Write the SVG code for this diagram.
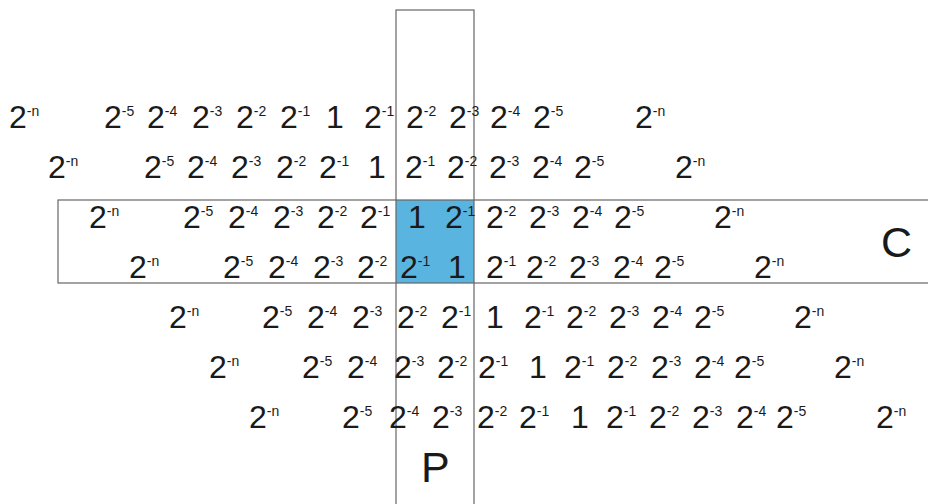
<svg xmlns="http://www.w3.org/2000/svg" width="928" height="504" viewBox="0 0 928 504">
<style>
text{font-family:"Liberation Sans",Arial,sans-serif;font-size:32px;fill:#1a1a1a}
.s{font-size:14px}
.big{font-size:43px}
.box{fill:none;stroke:#666;stroke-width:1.2}
</style>
<rect width="928" height="504" fill="#fff"/>
<g id="shapes">
<rect id="overlap" x="396" y="200" width="78" height="83" fill="#5ab4e0"/>
<rect id="boxC" class="box" x="58" y="200" width="890" height="83"/>
<rect id="boxP" class="box" x="396" y="10" width="78" height="520"/>
</g>
<g id="row1">
<text x="9" y="128">2<tspan class="s" dy="-12">-n</tspan></text>
<text x="104" y="128">2<tspan class="s" dy="-12">-5</tspan></text>
<text x="147" y="128">2<tspan class="s" dy="-12">-4</tspan></text>
<text x="192" y="128">2<tspan class="s" dy="-12">-3</tspan></text>
<text x="236" y="128">2<tspan class="s" dy="-12">-2</tspan></text>
<text x="280" y="128">2<tspan class="s" dy="-12">-1</tspan></text>
<text x="326" y="128">1</text>
<text x="364" y="128">2<tspan class="s" dy="-12">-1</tspan></text>
<text x="406" y="128">2<tspan class="s" dy="-12">-2</tspan></text>
<text x="449" y="128">2<tspan class="s" dy="-12">-3</tspan></text>
<text x="490" y="128">2<tspan class="s" dy="-12">-4</tspan></text>
<text x="533" y="128">2<tspan class="s" dy="-12">-5</tspan></text>
<text x="635" y="128">2<tspan class="s" dy="-12">-n</tspan></text>
</g>
<g id="row2">
<text x="48" y="178">2<tspan class="s" dy="-12">-n</tspan></text>
<text x="144" y="178">2<tspan class="s" dy="-12">-5</tspan></text>
<text x="187" y="178">2<tspan class="s" dy="-12">-4</tspan></text>
<text x="231" y="178">2<tspan class="s" dy="-12">-3</tspan></text>
<text x="276" y="178">2<tspan class="s" dy="-12">-2</tspan></text>
<text x="319" y="178">2<tspan class="s" dy="-12">-1</tspan></text>
<text x="368" y="178">1</text>
<text x="405" y="178">2<tspan class="s" dy="-12">-1</tspan></text>
<text x="447" y="178">2<tspan class="s" dy="-12">-2</tspan></text>
<text x="489" y="178">2<tspan class="s" dy="-12">-3</tspan></text>
<text x="532" y="178">2<tspan class="s" dy="-12">-4</tspan></text>
<text x="574" y="178">2<tspan class="s" dy="-12">-5</tspan></text>
<text x="675" y="178">2<tspan class="s" dy="-12">-n</tspan></text>
</g>
<g id="row3">
<text x="89" y="228">2<tspan class="s" dy="-12">-n</tspan></text>
<text x="183" y="228">2<tspan class="s" dy="-12">-5</tspan></text>
<text x="228" y="228">2<tspan class="s" dy="-12">-4</tspan></text>
<text x="273" y="228">2<tspan class="s" dy="-12">-3</tspan></text>
<text x="317" y="228">2<tspan class="s" dy="-12">-2</tspan></text>
<text x="360" y="228">2<tspan class="s" dy="-12">-1</tspan></text>
<text x="408" y="228">1</text>
<text x="445" y="228">2<tspan class="s" dy="-12">-1</tspan></text>
<text x="486" y="228">2<tspan class="s" dy="-12">-2</tspan></text>
<text x="529" y="228">2<tspan class="s" dy="-12">-3</tspan></text>
<text x="572" y="228">2<tspan class="s" dy="-12">-4</tspan></text>
<text x="614" y="228">2<tspan class="s" dy="-12">-5</tspan></text>
<text x="714" y="228">2<tspan class="s" dy="-12">-n</tspan></text>
</g>
<g id="row4">
<text x="129" y="278">2<tspan class="s" dy="-12">-n</tspan></text>
<text x="223" y="278">2<tspan class="s" dy="-12">-5</tspan></text>
<text x="268" y="278">2<tspan class="s" dy="-12">-4</tspan></text>
<text x="313" y="278">2<tspan class="s" dy="-12">-3</tspan></text>
<text x="357" y="278">2<tspan class="s" dy="-12">-2</tspan></text>
<text x="400" y="278">2<tspan class="s" dy="-12">-1</tspan></text>
<text x="448" y="278">1</text>
<text x="486" y="278">2<tspan class="s" dy="-12">-1</tspan></text>
<text x="526" y="278">2<tspan class="s" dy="-12">-2</tspan></text>
<text x="569" y="278">2<tspan class="s" dy="-12">-3</tspan></text>
<text x="613" y="278">2<tspan class="s" dy="-12">-4</tspan></text>
<text x="654" y="278">2<tspan class="s" dy="-12">-5</tspan></text>
<text x="754" y="278">2<tspan class="s" dy="-12">-n</tspan></text>
</g>
<g id="row5">
<text x="169" y="328">2<tspan class="s" dy="-12">-n</tspan></text>
<text x="262" y="328">2<tspan class="s" dy="-12">-5</tspan></text>
<text x="307" y="328">2<tspan class="s" dy="-12">-4</tspan></text>
<text x="352" y="328">2<tspan class="s" dy="-12">-3</tspan></text>
<text x="397" y="328">2<tspan class="s" dy="-12">-2</tspan></text>
<text x="441" y="328">2<tspan class="s" dy="-12">-1</tspan></text>
<text x="486" y="328">1</text>
<text x="524" y="328">2<tspan class="s" dy="-12">-1</tspan></text>
<text x="566" y="328">2<tspan class="s" dy="-12">-2</tspan></text>
<text x="609" y="328">2<tspan class="s" dy="-12">-3</tspan></text>
<text x="652" y="328">2<tspan class="s" dy="-12">-4</tspan></text>
<text x="694" y="328">2<tspan class="s" dy="-12">-5</tspan></text>
<text x="794" y="328">2<tspan class="s" dy="-12">-n</tspan></text>
</g>
<g id="row6">
<text x="209" y="378">2<tspan class="s" dy="-12">-n</tspan></text>
<text x="302" y="378">2<tspan class="s" dy="-12">-5</tspan></text>
<text x="347" y="378">2<tspan class="s" dy="-12">-4</tspan></text>
<text x="394" y="378">2<tspan class="s" dy="-12">-3</tspan></text>
<text x="437" y="378">2<tspan class="s" dy="-12">-2</tspan></text>
<text x="478" y="378">2<tspan class="s" dy="-12">-1</tspan></text>
<text x="529" y="378">1</text>
<text x="564" y="378">2<tspan class="s" dy="-12">-1</tspan></text>
<text x="607" y="378">2<tspan class="s" dy="-12">-2</tspan></text>
<text x="651" y="378">2<tspan class="s" dy="-12">-3</tspan></text>
<text x="694" y="378">2<tspan class="s" dy="-12">-4</tspan></text>
<text x="734" y="378">2<tspan class="s" dy="-12">-5</tspan></text>
<text x="834" y="378">2<tspan class="s" dy="-12">-n</tspan></text>
</g>
<g id="row7">
<text x="249" y="428">2<tspan class="s" dy="-12">-n</tspan></text>
<text x="342" y="428">2<tspan class="s" dy="-12">-5</tspan></text>
<text x="389" y="428">2<tspan class="s" dy="-12">-4</tspan></text>
<text x="432" y="428">2<tspan class="s" dy="-12">-3</tspan></text>
<text x="477" y="428">2<tspan class="s" dy="-12">-2</tspan></text>
<text x="519" y="428">2<tspan class="s" dy="-12">-1</tspan></text>
<text x="571" y="428">1</text>
<text x="606" y="428">2<tspan class="s" dy="-12">-1</tspan></text>
<text x="649" y="428">2<tspan class="s" dy="-12">-2</tspan></text>
<text x="692" y="428">2<tspan class="s" dy="-12">-3</tspan></text>
<text x="736" y="428">2<tspan class="s" dy="-12">-4</tspan></text>
<text x="776" y="428">2<tspan class="s" dy="-12">-5</tspan></text>
<text x="876" y="428">2<tspan class="s" dy="-12">-n</tspan></text>
</g>
<g id="labels">
<text class="big" x="881" y="257">C</text>
<text class="big" x="421" y="482">P</text>
</g>
</svg>
